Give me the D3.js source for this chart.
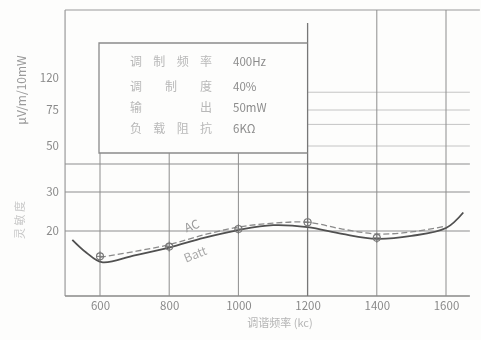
<!DOCTYPE html>
<html>
<head>
<meta charset="utf-8">
<script src="https://cdn.jsdelivr.net/npm/d3@7"></script>
<style>
  html, body { margin: 0; padding: 0; background: #fdfdfc; }
  svg { display: block; filter: blur(0.45px); }
  text { font-family: "Noto Sans CJK SC", "DejaVu Sans", sans-serif; }
</style>
</head>
<body>
<svg id="chart" width="481" height="340"></svg>
<script>
// ---- data ----
const xTicks = [600, 800, 1000, 1200, 1400, 1600];
const yTicks = [20, 30, 50, 75, 120];
const yGridMain = [20, 30, 40];
const yGridFaint = [100, 75, 65, 50];

const battFreq = [520, 560, 605, 700, 800, 900, 1000, 1100, 1200, 1300, 1400, 1500, 1600, 1650];
const battVal  = [17.75, 14.5, 12, 13.75, 15.75, 18.25, 20.25, 21.5, 21, 19.25, 18, 18.75, 20.75, 24.75];

const acFreq = [600, 700, 800, 900, 1000, 1100, 1200, 1300, 1400, 1500, 1600];
const acVal  = [13.25, 14.75, 16.5, 19, 21, 22, 22.25, 20.5, 19.25, 19.75, 21.25];

const markerFreq = [600, 800, 1000, 1200, 1400];
const markerVal  = [13.5, 16, 20.5, 22.25, 18.25];

const legendLabels = ["调制频率", "调 制 度", "输      出", "负载阻抗"];
const legendValues = ["400Hz", "40%", "50mW", "6KΩ"];

const xTitle = "调谐频率 (kc)";
const yTitleCn = "灵 敏 度";
const yTitleUnit = "μV/m/10mW";

// ---- scales ----
const x = d3.scaleLinear().domain([600, 1600]).range([100, 446]);
const y = d3.scaleLinear()
  .domain([20, 30, 40, 50, 75, 120])
  .range([231, 192, 164, 146, 110, 78]);

const svg = d3.select("#chart");
const pLeft = x(499), pRight = x(1669), pTop = 10, pBottom = 296;
const boxTop = 43, boxBottom = 153;
const gridCol = "#8d8d8d";

// frame lines
svg.append("line").attr("x1", pLeft).attr("x2", pLeft).attr("y1", pTop).attr("y2", pBottom)
  .attr("stroke", "#9a9a9a").attr("stroke-width", 1.2);
svg.append("line").attr("x1", pLeft).attr("x2", pRight).attr("y1", pBottom).attr("y2", pBottom)
  .attr("stroke", "#888").attr("stroke-width", 1.3);
svg.append("line").attr("x1", pLeft).attr("x2", pRight + 10).attr("y1", pTop).attr("y2", pTop)
  .attr("stroke", "#999").attr("stroke-width", 1.2);

// faint horizontal gridlines in the upper right
svg.append("g").selectAll("line").data(yGridFaint).join("line")
  .attr("x1", x(1200)).attr("x2", pRight)
  .attr("y1", d => y(d)).attr("y2", d => y(d))
  .attr("stroke", "#c4c4c4").attr("stroke-width", 1);

// main horizontal gridlines
svg.append("g").selectAll("line").data(yGridMain).join("line")
  .attr("x1", pLeft).attr("x2", pRight)
  .attr("y1", d => y(d)).attr("y2", d => y(d))
  .attr("stroke", gridCol).attr("stroke-width", 1.1);

// vertical gridlines
svg.append("g").selectAll("line").data(xTicks).join("line")
  .attr("x1", d => x(d)).attr("x2", d => x(d))
  .attr("y1", d => d < 1200 ? boxBottom : (d === 1200 ? pTop + 13 : pTop))
  .attr("y2", pBottom)
  .attr("stroke", d => d === 1200 ? "#777" : gridCol)
  .attr("stroke-width", d => d === 1200 ? 1.3 : 1);

// legend box
const boxLeft = 99, boxRight = x(1200);
svg.append("path")
  .attr("d", `M${boxRight},${boxTop}H${boxLeft}V${boxBottom}H${boxRight}`)
  .attr("fill", "none").attr("stroke", "#8a8a8a").attr("stroke-width", 1.3);

const rowY = [62, 87, 108, 129];
svg.append("g").selectAll("text").data(legendLabels).join("text")
  .attr("x", 130).attr("y", (d, i) => rowY[i]).attr("dy", "0.35em")
  .attr("font-size", 12).attr("fill", "#b8b8b8")
  .attr("textLength", 82).attr("lengthAdjust", "spacing")
  .text(d => d);
svg.append("g").selectAll("text").data(legendValues).join("text")
  .attr("x", 233).attr("y", (d, i) => rowY[i]).attr("dy", "0.35em")
  .attr("font-size", 11.5).attr("fill", "#8c8c8c")
  .attr("font-family", "DejaVu Sans Condensed, DejaVu Sans, sans-serif")
  .text(d => d);

// axes (labels only)
const xAxis = svg.append("g").attr("transform", `translate(0,${pBottom})`)
  .call(d3.axisBottom(x).tickValues(xTicks).tickSize(0).tickPadding(6).tickFormat(d3.format("d")));
xAxis.select(".domain").remove();
xAxis.selectAll("text").attr("font-size", 11.5).attr("fill", "#8a8a8a")
  .attr("font-family", "DejaVu Sans Condensed, DejaVu Sans, sans-serif");

const yAxis = svg.append("g").attr("transform", `translate(59,0)`)
  .call(d3.axisLeft(y).tickValues(yTicks).tickSize(0).tickPadding(0).tickFormat(d3.format("d")));
yAxis.select(".domain").remove();
yAxis.selectAll("text").attr("font-size", 11.5).attr("fill", "#8a8a8a")
  .attr("font-family", "DejaVu Sans Condensed, DejaVu Sans, sans-serif");

// axis titles
svg.append("text").attr("x", 280).attr("y", 327).attr("text-anchor", "middle")
  .attr("font-size", 11).attr("fill", "#b5b5b5").text(xTitle);
svg.append("text").attr("transform", "translate(22,90) rotate(-90)")
  .attr("text-anchor", "middle").attr("dy", "0.35em")
  .attr("font-size", 12).attr("fill", "#9a9a9a")
  .attr("font-family", "DejaVu Sans, sans-serif").text(yTitleUnit);
svg.append("text").attr("transform", "translate(20,220) rotate(-90)")
  .attr("text-anchor", "middle").attr("dy", "0.35em")
  .attr("font-size", 11).attr("fill", "#c8c8c8").text(yTitleCn);

// curves
const line = d3.line().curve(d3.curveCatmullRom.alpha(0.5))
  .x(d => x(d[0])).y(d => y(d[1]));

svg.append("path").datum(d3.zip(acFreq, acVal))
  .attr("d", line).attr("fill", "none")
  .attr("stroke", "#8a8a8a").attr("stroke-width", 1.3).attr("stroke-dasharray", "6,3");

svg.append("path").datum(d3.zip(battFreq, battVal))
  .attr("d", line).attr("fill", "none")
  .attr("stroke", "#505050").attr("stroke-width", 1.8);

// markers
const mk = svg.append("g").selectAll("g").data(d3.zip(markerFreq, markerVal)).join("g")
  .attr("transform", d => `translate(${x(d[0])},${y(d[1])})`);
mk.append("circle").attr("r", 3.5).attr("fill", "none").attr("stroke", "#777").attr("stroke-width", 1.1);
mk.append("path").attr("d", "M-4,0H4M0,-5V5").attr("stroke", "#777").attr("stroke-width", 1);

// curve labels
svg.append("text").attr("transform", `translate(${x(870)},${y(18.5) - 7}) rotate(-22)`)
  .attr("font-size", 12).attr("fill", "#9a9a9a")
  .attr("font-family", "DejaVu Sans, sans-serif").attr("text-anchor", "middle").text("AC");
svg.append("text").attr("transform", `translate(${x(880)},${y(13)}) rotate(-22)`)
  .attr("font-size", 12).attr("fill", "#aaaaaa")
  .attr("font-family", "DejaVu Sans, sans-serif").attr("text-anchor", "middle").text("Batt");
</script>
</body>
</html>
